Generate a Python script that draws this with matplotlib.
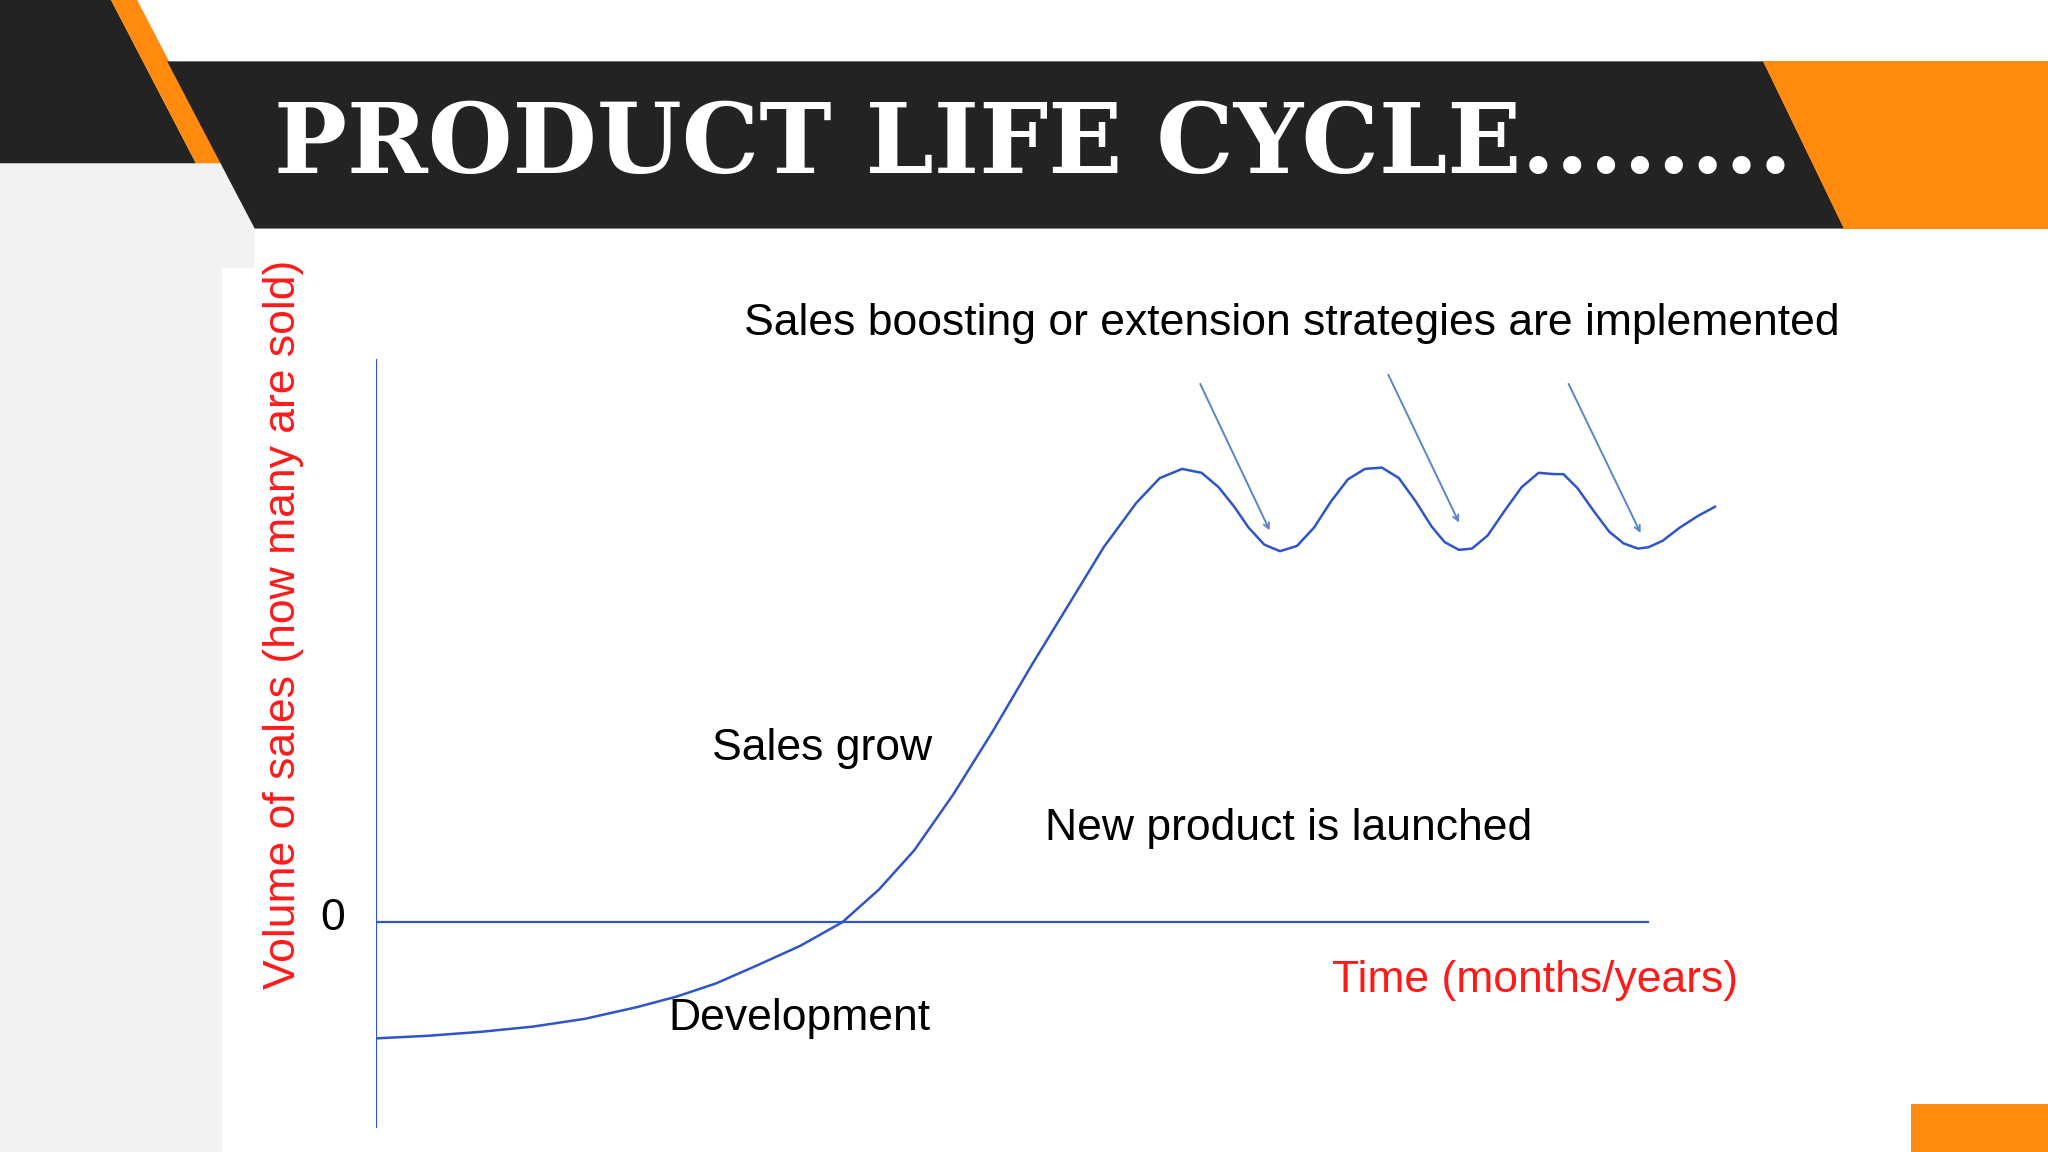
import matplotlib
matplotlib.use("Agg")
import matplotlib.pyplot as plt
from matplotlib.patches import Polygon, Rectangle

# ---- data (time units vs sales volume) ----
time = [0, 40, 80, 120, 160, 200, 230, 260, 292, 325, 357, 385, 412, 442, 472, 502,
        532, 557, 582, 600, 617, 632, 645, 657, 668, 680, 692, 705, 718, 731, 744,
        757, 770, 783, 796, 808, 818, 829, 839, 851, 864, 877, 890, 902, 909, 920,
        932, 944, 955, 966, 974, 985, 998, 1012, 1025]
sales = [-89, -87, -84, -80, -74, -65, -57, -47, -33, -18, 0, 25, 55, 98, 146, 197,
         246, 287, 321, 340, 347, 344, 333, 318, 302, 289, 284, 288, 302, 322, 339,
         347, 348, 340, 322, 303, 291, 285, 286, 296, 315, 333, 344, 343, 343, 332,
         315, 299, 290, 286, 287, 292, 302, 311, 318]
arrow_start = [(630, 414), (774, 421), (912, 414)]
arrow_end = [(685, 298), (830, 304), (969, 296)]
title = "PRODUCT LIFE CYCLE........"

W, H = 1568, 882
fig = plt.figure(figsize=(20.48, 11.52), dpi=100)
bg = fig.add_axes([0, 0, 1, 1])
bg.set_xlim(0, W); bg.set_ylim(H, 0); bg.axis("off")
dark, orange, grey = "#232323", "#ff8a0d", "#f2f1f3"
bg.add_patch(Polygon([(0, 125), (170, 125), (195, 175), (195, 205), (170, 205), (170, H), (0, H)], color=grey, lw=0))
bg.add_patch(Polygon([(0, 0), (85, 0), (150, 125), (0, 125)], color=dark, lw=0))
bg.add_patch(Polygon([(85, 0), (105, 0), (170, 125), (150, 125)], color=orange, lw=0))
bg.add_patch(Polygon([(128, 47), (1350, 47), (1412, 175), (195, 175)], color=dark, lw=0))
bg.add_patch(Polygon([(1350, 47), (W, 47), (W, 175), (1412, 175)], color=orange, lw=0))
bg.add_patch(Rectangle((1463, 845), W - 1463, H - 845, color=orange, lw=0))
bg.text(210, 112, title, color="white", fontsize=70, fontweight="bold",
        family="DejaVu Serif", va="center", ha="left")

sans = "Liberation Sans"
fs = 32
bg.text(570, 248, "Sales boosting or extension strategies are implemented", fontsize=fs, family=sans, va="center")
bg.text(545, 573, "Sales grow", fontsize=fs, family=sans, va="center")
bg.text(800, 634, "New product is launched", fontsize=fs, family=sans, va="center")
bg.text(512, 780, "Development", fontsize=fs, family=sans, va="center")
bg.text(1020, 751, "Time (months/years)", fontsize=fs, family=sans, va="center", color="#ff1a1a")
bg.text(255, 703, "0", fontsize=fs, family=sans, va="center", ha="center")
bg.text(217, 478, "Volume of sales (how many are sold)", fontsize=fs, family=sans,
        va="center", ha="center", rotation=90, color="#ff1a1a")

# chart axes: x pixel 288..1320, y pixel 275..870
ax = fig.add_axes([288 / W, 1 - 870 / H, (1320 - 288) / W, (870 - 275) / H])
ax.set_xlim(0, 1032); ax.set_ylim(-164, 431)
ax.axis("off")
ax.patch.set_alpha(0)
blue = "#2f55c8"
ax.plot(time, sales, color=blue, lw=1.8, solid_joinstyle="round")
ax.plot([0, 0], [-157, 431], color=blue, lw=1.6)
ax.plot([0, 974], [0, 0], color=blue, lw=1.6)
for s, e in zip(arrow_start, arrow_end):
    ax.annotate("", xy=e, xytext=s,
                arrowprops=dict(arrowstyle="->", color="#5b85c8", lw=1.4))
fig.savefig("out.png", dpi=100)
